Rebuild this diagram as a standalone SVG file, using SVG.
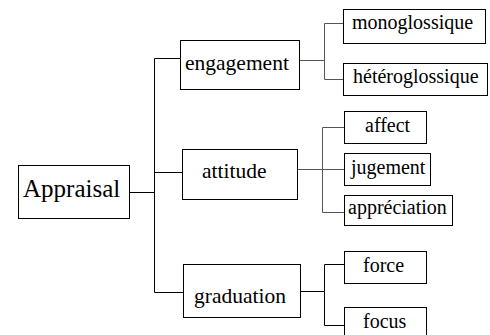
<svg xmlns="http://www.w3.org/2000/svg" width="490" height="335" viewBox="0 0 490 335">
<style>
rect{fill:#fff;stroke:#000;stroke-width:1}
.l{fill:none;stroke:#000;stroke-width:1}
.g{fill:none;stroke:#555;stroke-width:1}
.t0{font-size:25px}
.t1{font-size:21.5px}
.t2{font-size:20px}
</style>
<rect x="0" y="0" width="490" height="335" style="stroke:none"/>
<g id="connectors">
<path class="l" d="M129.5 192.5H154.5M154.5 58.5V292.5M154.5 58.5H180.5M154.5 172.5H182.5M154.5 292.5H183.5"/>
<path class="g" d="M299.5 60.5H324.5M324.5 23.5V79.5M324.5 23.5H343.5M324.5 79.5H343.5"/>
<path class="g" d="M297.5 169.5H322.5M322.5 127.5V212.5M322.5 127.5H344.5M322.5 169.5H344.5M322.5 212.5H344.5"/>
<path class="l" d="M300.5 291.5H324.5M324.5 264.5V325.5M324.5 264.5H344.5M324.5 325.5H344.5"/>
</g>
<g font-family="'Liberation Serif', 'Times New Roman', serif" fill="#000">
<g id="appraisal"><rect x="18.5" y="165.5" width="111" height="53"/><text class="t0" x="23" y="197">Appraisal</text></g>
<g id="engagement"><rect x="180.5" y="40.5" width="119" height="49"/><text class="t1" x="185" y="70">engagement</text></g>
<g id="attitude"><rect x="182.5" y="149.5" width="115" height="50"/><text class="t1" x="202" y="178">attitude</text></g>
<g id="graduation"><rect x="183.5" y="264.5" width="117" height="53"/><text class="t1" x="194" y="303">graduation</text></g>
<g id="monoglossique"><rect x="343.5" y="9.5" width="142" height="34"/><text class="t2" x="352" y="29">monoglossique</text></g>
<g id="heteroglossique"><rect x="343.5" y="63.5" width="144" height="32"/><text class="t2" x="353" y="83">hétéroglossique</text></g>
<g id="affect"><rect x="344.5" y="111.5" width="82" height="32"/><text class="t2" x="365" y="132">affect</text></g>
<g id="jugement"><rect x="344.5" y="153.5" width="86" height="32"/><text class="t2" x="351" y="174">jugement</text></g>
<g id="appreciation"><rect x="344.5" y="195.5" width="108" height="30"/><text class="t2" x="348" y="214">appréciation</text></g>
<g id="force"><rect x="344.5" y="251.5" width="82" height="32"/><text class="t2" x="363" y="272">force</text></g>
<g id="focus"><rect x="344.5" y="307.5" width="82" height="34"/><text class="t2" x="363" y="328">focus</text></g>
</g>
</svg>
